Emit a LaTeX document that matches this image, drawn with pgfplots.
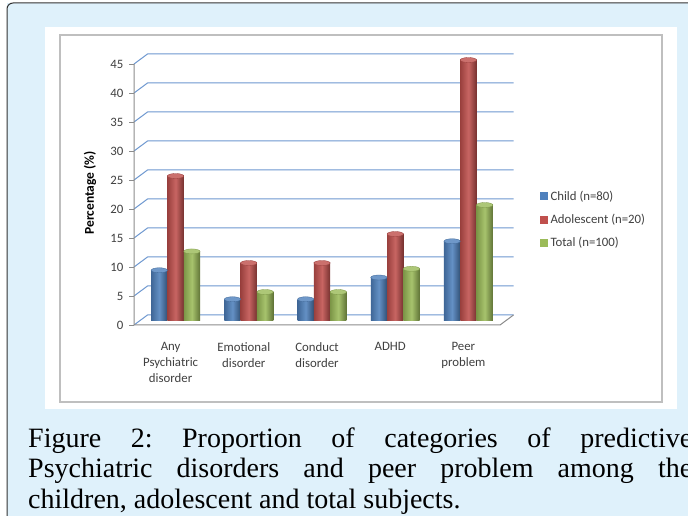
\documentclass[border=0pt]{standalone}
\usepackage{fontspec}
\setmainfont{Carlito}
\newfontfamily\capfont{Liberation Serif}
\usepackage{pgfplots}
\pgfplotsset{compat=1.18}
\usetikzlibrary{shapes.geometric}
\definecolor{panel}{HTML}{DFF1FB}
\definecolor{cblue}{HTML}{4F81BD}
\definecolor{cred}{HTML}{C0504D}
\definecolor{cgreen}{HTML}{9BBB59}
\definecolor{gridb}{HTML}{6E98D0}
\definecolor{txt}{HTML}{404040}
\pgfplotsset{cyl/.style={draw=none, forget plot,
  left color=#1!80!black, right color=#1!62!black, middle color=#1!88!white,
  nodes near coords={},
  every node near coord/.append style={ellipse, fill=#1!82!white, draw=#1!80!black, line width=0.3pt,
    minimum width=16.3pt, minimum height=5pt, inner sep=0pt, anchor=center}}}
\begin{document}
\frenchspacing
\begin{tikzpicture}[x=1pt,y=1pt]
\useasboundingbox (0,0) rectangle (688,516);
\clip (0,0) rectangle (688,516);
\fill[panel] (7,-10) rectangle (700,513);
\draw[line width=1pt, color=black!80, rounded corners=6pt] (7,-10) -- (7,513) -- (700,513);
\fill[white] (45,107) rectangle (677,489);
\draw[line width=1.2pt, color=black!25] (60,114) rectangle (662,481);
% decoration axis (front scale, walls, grid)
\begin{axis}[at={(134pt,191pt)}, anchor=south west, scale only axis,
  width=366pt, height=261pt, xmin=-0.5, xmax=4.5, ymin=0, ymax=45, clip=false,
  axis line style={draw=none},
  ytick={0,5,...,45}, ytick pos=left, tick align=outside, major tick length=5pt,
  y tick style={color=black!45, line width=0.8pt},
  xtick={0,1,2,3,4}, x tick style={draw=none},
  xticklabels={{Any\\Psychiatric\\disorder},{Emotional\\disorder},{Conduct\\disorder},{ADHD},{Peer\\problem}},
  /pgf/number format/assume math mode=true,
  yticklabel style={font=\fontsize{12.8}{14}\selectfont, text=txt, xshift=-2pt},
  xticklabel style={font=\fontsize{12.8}{16}\selectfont, text=txt, align=center, anchor=north, yshift=-9pt},
]
\addplot[draw=none, forget plot] coordinates {(0,0)};
\pgfplotsinvokeforeach{0,5,...,45}{
  \draw[gridb, line width=1pt] (axis cs:-0.5,#1) -- ([shift={(13.5pt,10pt)}]axis cs:-0.5,#1) -- ([shift={(13.5pt,10pt)}]axis cs:4.5,#1);
}
\draw[black!45, line width=1pt] (axis cs:-0.5,45) -- (axis cs:-0.5,0) -- (axis cs:4.5,0) -- ++(13.5pt,10pt);
\end{axis}
% bar axis
\begin{axis}[at={(139pt,195pt)}, anchor=south west, scale only axis,
  width=366pt, height=261pt, xmin=-0.5, xmax=4.5, ymin=0, ymax=45, clip=false,
  hide axis, ybar, bar width=16.3pt,
  legend image code/.code={\fill[#1] (0pt,-3.5pt) rectangle (7pt,3.5pt);},
  legend style={draw=none, fill=none, at={(axis description cs:1.094,0.502)}, anchor=north west,
    inner sep=0pt, row sep=11.5pt, column sep=3pt, font=\fontsize{12.8}{14}\selectfont, text=txt,
    nodes={inner sep=0.5pt}},
  legend cell align=left,
]
% Child (n=80)
\addplot[cyl=cblue, bar shift=-16.3pt] coordinates {(0,8.75)};
\addplot[cyl=cblue, bar shift=-16.3pt] coordinates {(1,3.75)};
\addplot[cyl=cblue, bar shift=-16.3pt] coordinates {(2,3.75)};
\addplot[cyl=cblue, bar shift=-16.3pt] coordinates {(3,7.5)};
\addplot[cyl=cblue, bar shift=-16.3pt] coordinates {(4,13.75)};
% Adolescent (n=20)
\addplot[cyl=cred, bar shift=0pt] coordinates {(0,25)};
\addplot[cyl=cred, bar shift=0pt] coordinates {(1,10)};
\addplot[cyl=cred, bar shift=0pt] coordinates {(2,10)};
\addplot[cyl=cred, bar shift=0pt] coordinates {(3,15)};
\addplot[cyl=cred, bar shift=0pt] coordinates {(4,45)};
% Total (n=100)
\addplot[cyl=cgreen, bar shift=16.3pt] coordinates {(0,12)};
\addplot[cyl=cgreen, bar shift=16.3pt] coordinates {(1,5)};
\addplot[cyl=cgreen, bar shift=16.3pt] coordinates {(2,5)};
\addplot[cyl=cgreen, bar shift=16.3pt] coordinates {(3,9)};
\addplot[cyl=cgreen, bar shift=16.3pt] coordinates {(4,20)};
\addlegendimage{cblue}
\addlegendentry{Child (n=80)}
\addlegendimage{cred}
\addlegendentry{Adolescent (n=20)}
\addlegendimage{cgreen}
\addlegendentry{Total (n=100)}
\end{axis}
\node[rotate=90, font=\bfseries\fontsize{13.5}{15}\selectfont, text=black] at (90,323) {Percentage (\%)};
\node[anchor=north west, inner sep=0pt, text width=664pt, align=justify,
  font=\capfont\fontsize{28}{30.5}\selectfont] at (28,88.5)
  {Figure 2: Proportion of categories of predictive\linebreak Psychiatric disorders and peer problem among the\linebreak children, adolescent and total subjects.};
\end{tikzpicture}
\end{document}
